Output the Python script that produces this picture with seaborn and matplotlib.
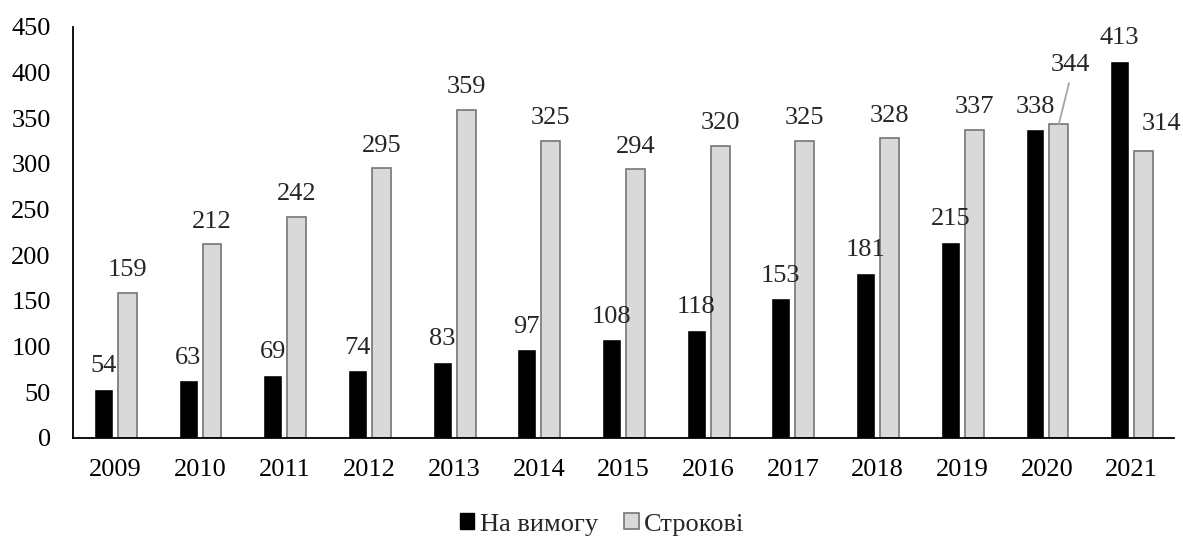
import pandas as pd
import matplotlib.pyplot as plt
import seaborn as sns
from matplotlib.patches import Patch

# дані
years = ['2009', '2010', '2011', '2012', '2013', '2014', '2015',
         '2016', '2017', '2018', '2019', '2020', '2021']
demand = [54, 63, 69, 74, 83, 97, 108, 118, 153, 181, 215, 338, 413]
term = [159, 212, 242, 295, 359, 325, 294, 320, 325, 328, 337, 344, 314]
series_names = ['На вимогу', 'Строкові']

df = pd.DataFrame({
    'year': years * 2,
    'value': demand + term,
    'series': [series_names[0]] * len(years) + [series_names[1]] * len(years),
})

sns.set_style('white')
plt.rcParams['font.family'] = ['Liberation Serif', 'DejaVu Serif']

fig, ax = plt.subplots(figsize=(11.83, 5.38), dpi=100)
fig.subplots_adjust(left=0.0617, right=0.9924, top=0.95, bottom=0.186)

palette = {series_names[0]: '#000000', series_names[1]: '#d9d9d9'}
sns.barplot(data=df, x='year', y='value', hue='series', palette=palette,
            width=0.566, gap=0.21, saturation=1, ax=ax, legend=False)

# контури сірих стовпців
for bar in ax.containers[1]:
    bar.set_edgecolor('#767676')
    bar.set_linewidth(1.2)

# підписи значень
FS = 19
for ci, cont in enumerate(ax.containers):
    vals = demand if ci == 0 else term
    for i, (bar, v) in enumerate(zip(cont, vals)):
        cx = bar.get_x() + bar.get_width() / 2
        if years[i] == '2020' and ci == 1:
            # винесений підпис з лінією
            ax.annotate(str(v), xy=(cx, v), xytext=(cx + 0.14, v + 58),
                        ha='center', va='baseline', fontsize=FS,
                        arrowprops=dict(arrowstyle='-', color='#a6a6a6', lw=1.3,
                                        relpos=(0.5, 0), shrinkA=3, shrinkB=0))
            continue
        dx, dy = 0, 12
        if years[i] == '2021' and ci == 1:
            dx, dy = 13, 15
        ax.annotate(str(v), xy=(cx, v), xytext=(dx, dy), textcoords='offset points',
                    ha='center', va='baseline', fontsize=FS)

ax.set_ylim(0, 450)
ax.set_yticks(range(0, 451, 50))
ax.set_xlim(-0.5, len(years) - 0.5)
ax.set_xlabel('')
ax.set_ylabel('')
ax.tick_params(axis='both', labelsize=FS, length=0, colors='black')
ax.tick_params(axis='x', pad=15)
ax.tick_params(axis='y', pad=16)

for side in ['top', 'right']:
    ax.spines[side].set_visible(False)
for side in ['left', 'bottom']:
    ax.spines[side].set_color('black')
    ax.spines[side].set_linewidth(1.3)

handles = [Patch(facecolor='#000000', edgecolor='#000000'),
           Patch(facecolor='#d9d9d9', edgecolor='#767676', linewidth=1.2)]
fig.legend(handles, series_names, loc='lower center', ncol=2, frameon=False,
           fontsize=FS, handlelength=0.55, handleheight=0.55, handletextpad=0.2,
           columnspacing=1.0, bbox_to_anchor=(0.509, -0.04))

plt.savefig('out.png', dpi=100)
